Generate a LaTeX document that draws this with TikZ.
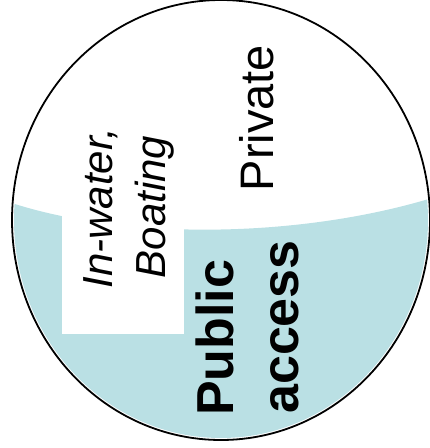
\documentclass[tikz,border=0pt]{standalone}
\usepackage{fontspec}
\setmainfont{Liberation Sans}
\definecolor{waterblue}{RGB}{186,224,228}

\begin{document}
\begin{tikzpicture}[x=1pt,y=-1pt,
        rot text/.style={rotate=90, inner sep=0pt, anchor=base},
        rot left/.style={rotate=90, inner sep=0pt, anchor=base west},
        italic big/.style={font=\fontsize{42}{50}\selectfont\itshape},
        plain big/.style={font=\fontsize{47}{56}\selectfont},
        bold big/.style={font=\fontsize{52}{62}\selectfont\bfseries}]

            \useasboundingbox (0,0) rectangle (430,448);

            % Water

            \begin{scope}
                \clip (221,220) ellipse [x radius=207, y radius=218];
                \fill[waterblue] (0,199) .. controls (120,242) and (300,238) .. (432,198)
                    -- (432,448) -- (0,448) -- cycle;
            \end{scope}
            \fill[white] (62,150) rectangle (184,334);

            % Outline

            \draw[line width=1.8pt] (221,220) ellipse [x radius=209, y radius=220];

            % Labels

            \node[rot text, italic big] (inwater) at (112,208) {In-water,};
            \node[rot text, italic big] (boating) at (165,207) {Boating};
            \node[rot text, plain big] (private) at (273,118) {Private};
            \node[rot left, bold big] (public) at (233,416) {Public};
            \node[rot left, bold big] (access) at (298,414) {access};
        \end{tikzpicture}
\end{document}
